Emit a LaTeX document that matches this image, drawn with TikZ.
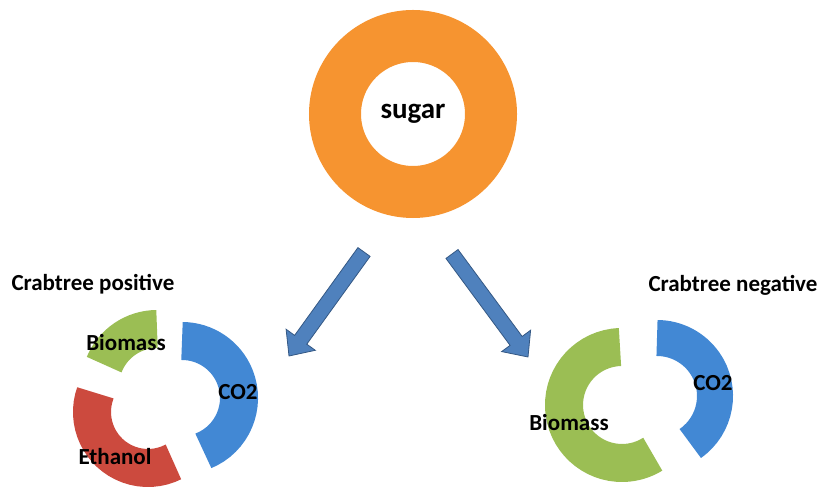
\documentclass[tikz,border=0pt]{standalone}
\usepackage{fontspec}
\setmainfont{Carlito}
\usetikzlibrary{calc}

\definecolor{sugarorange}{RGB}{246,148,48}
\definecolor{segGreen}{RGB}{155,190,84}
\definecolor{segRed}{RGB}{204,74,62}
\definecolor{segBlue}{RGB}{66,136,212}
\definecolor{arrowblue}{RGB}{79,129,189}
\definecolor{arrowedge}{RGB}{52,88,132}

\begin{document}
\begin{tikzpicture}[x=1pt, y=1pt,
    lbl/.style={font=\bfseries\fontsize{23}{27}\selectfont, inner sep=0pt},
    seg/.style={line width=38pt, line cap=butt},
    ring/.style={circle, draw=sugarorange, line width=52pt, minimum size=156pt, inner sep=0pt,
                 font=\bfseries\fontsize{29}{33}\selectfont},
    bigarrow/.style={draw=arrowedge, fill=arrowblue, line width=0.8pt, line join=miter,
      to path={let \p1=(\tikztostart), \p2=(\tikztotarget), \p3=($(\p2)!20pt!(\p1)$) in
        ($(\p1)!7.5pt!90:(\p2)$) -- ($(\p3)!7.5pt!-90:(\p1)$) -- ($(\p3)!18pt!-90:(\p1)$)
        -- (\p2) -- ($(\p3)!18pt!90:(\p1)$) -- ($(\p3)!7.5pt!90:(\p1)$)
        -- ($(\p1)!7.5pt!-90:(\p2)$) -- cycle}}]
    \useasboundingbox (0,0) rectangle (822,492);

    % Sugar ring
    \node[ring] (sugar) at (413,378) {sugar};

    % Arrows
    \coordinate (lt) at (364,240);
    \coordinate (lh) at (289,136);
    \coordinate (rt) at (452,238);
    \coordinate (rh) at (528,135);
    \draw[bigarrow] (lt) to (lh);
    \draw[bigarrow] (rt) to (rh);

    % Crabtree positive
    \draw[seg, draw=segGreen] (157,106) ++(90:57pt) arc[start angle=90, end angle=158, radius=57pt];
    \draw[seg, draw=segRed] (148,80) ++(160:56pt) arc[start angle=160, end angle=297, radius=56pt];
    \draw[seg, draw=segBlue] (182,94) ++(-68:57pt) arc[start angle=-68, end angle=90, radius=57pt];
    \node[lbl] (pos) at (93,208) {Crabtree positive};
    \node[lbl] (posBio) at (126,149) {Biomass};
    \node[lbl] (posCO) at (238,100) {CO2};
    \node[lbl] (posEth) at (115,35) {Ethanol};

    % Crabtree negative
    \draw[seg, draw=segGreen] (622,87) ++(92:58pt) arc[start angle=92, end angle=302, radius=58pt];
    \draw[seg, draw=segBlue, line width=36pt] (657,96) ++(-55:58pt) arc[start angle=-55, end angle=90, radius=58pt];
    \node[lbl] (neg) at (733,207) {Crabtree negative};
    \node[lbl] (negCO) at (713,109) {CO2};
    \node[lbl] (negBio) at (569,69) {Biomass};
\end{tikzpicture}
\end{document}
